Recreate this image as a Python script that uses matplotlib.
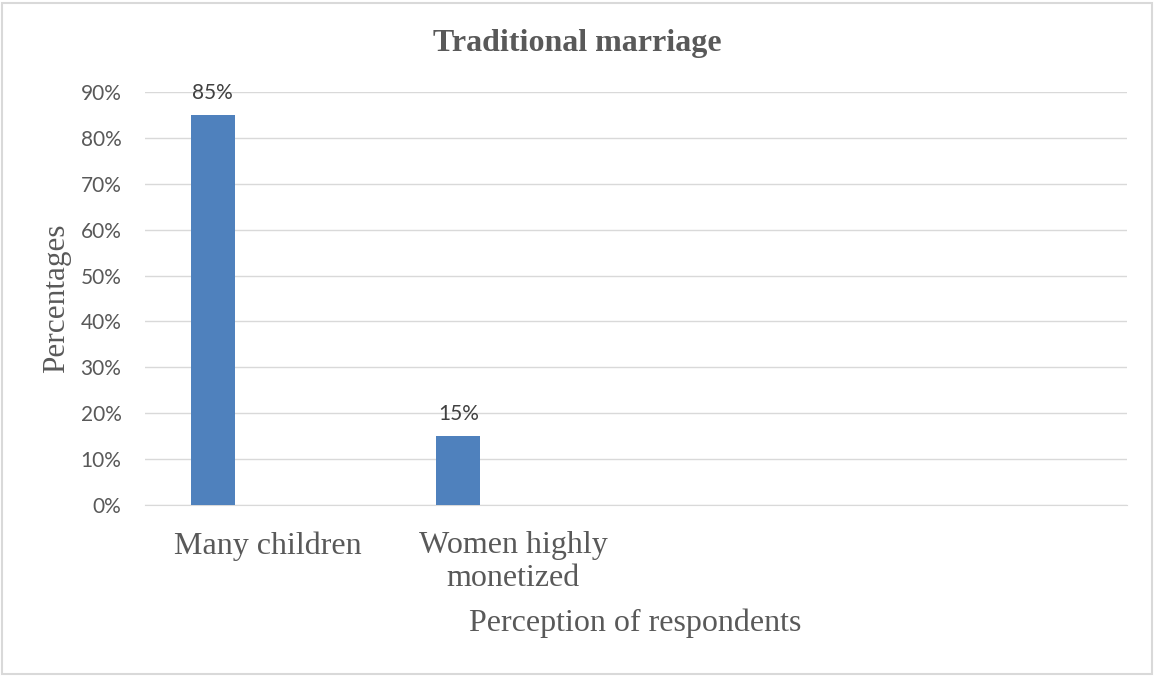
import matplotlib.pyplot as plt
from matplotlib.patches import Rectangle
from matplotlib.ticker import PercentFormatter

categories = ["Many children", "Women highly\nmonetized", "", ""]
values = [0.85, 0.15, None, None]
value_labels = ["85%", "15%"]
yticks = [0.0, 0.1, 0.2, 0.3, 0.4, 0.5, 0.6, 0.7, 0.8, 0.9]

BAR_COLOR = "#4f81bd"
TEXT_GRAY = "#595959"
SERIF = "Liberation Serif"
SANS = "Lato"

fig = plt.figure(figsize=(11.54, 6.77), dpi=100)
ax = fig.add_axes([145 / 1154, 1 - 505 / 677, 982 / 1154, 413 / 677])

# bars sit left of the category centre, as in a clustered chart
offset = -0.224
width = 0.179
for i, v in enumerate(values):
    if v is None:
        continue
    ax.bar(i + offset, v, width=width, color=BAR_COLOR, zorder=3)
    ax.text(i + offset, v + 0.026, value_labels[i], ha="center", va="bottom",
            fontsize=15, color="#404040", family=SANS)

ax.set_xlim(-0.5, len(categories) - 0.5)
ax.set_ylim(0, 0.9)
ax.set_yticks(yticks)
ax.yaxis.set_major_formatter(PercentFormatter(1.0, decimals=0))
ax.set_xticks(range(len(categories)))
ax.set_xticklabels(categories, family=SERIF, fontsize=23, color=TEXT_GRAY,
                   linespacing=1.15)
for lbl in ax.get_yticklabels():
    lbl.set_family(SANS)
    lbl.set_fontsize(15)
    lbl.set_color(TEXT_GRAY)

ax.tick_params(axis="both", length=0)
ax.tick_params(axis="x", pad=19)
ax.tick_params(axis="y", pad=17)
ax.grid(axis="y", color="#d9d9d9", linewidth=1.0, zorder=0)
for side in ["top", "right", "left"]:
    ax.spines[side].set_visible(False)
ax.spines["bottom"].set_color("#d9d9d9")

fig.text(577 / 1154, 1 - 43 / 677, "Traditional marriage", ha="center",
         va="center", family=SERIF, fontsize=23, fontweight="bold", color=TEXT_GRAY)
fig.text(635 / 1154, 1 - 623 / 677, "Perception of respondents", ha="center",
         va="center", family=SERIF, fontsize=23, color=TEXT_GRAY)
fig.text(57 / 1154, 1 - 298 / 677, "Percentages", ha="center", va="center",
         rotation=90, family=SERIF, fontsize=22.5, color=TEXT_GRAY)

# thin frame around the whole chart area
fig.patches.append(Rectangle((2 / 1154, 3 / 677), 1150 / 1154, 671 / 677,
                             transform=fig.transFigure, fill=False,
                             edgecolor="#d9d9d9", linewidth=1.5))

fig.savefig("out.png", dpi=100, facecolor="white")
